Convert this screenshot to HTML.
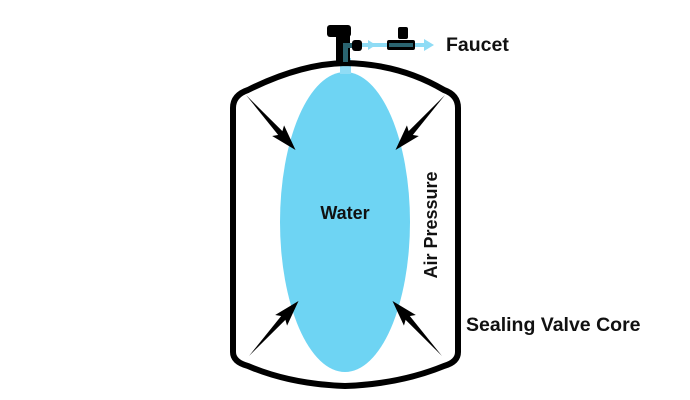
<!DOCTYPE html>
<html><head><style>
body{margin:0;background:#fff;}
svg{display:block}
text{font-family:"Liberation Sans",sans-serif;fill:#111;font-weight:bold;}
</style></head><body>
<svg width="690" height="400" viewBox="0 0 690 400">
<defs>
<g id="arr"><polygon points="0,0 54,-3 54,3" fill="#000"/><polygon points="48,-8 74,0 48,8 53,0" fill="#000"/></g>
</defs>
<ellipse cx="345" cy="222" rx="65" ry="150" fill="#6ed4f3"/>
<rect x="340" y="58" width="11" height="16" fill="#8fdcf5"/>
<path d="M233,108 Q233,95 248,90 Q300,64 345,63 Q400,64 444,90 Q458,95 458,108 L458,352 Q458,362 444,366 Q400,384 345,386 Q290,384 248,366 Q233,362 233,352 Z" fill="none" stroke="#000" stroke-width="6" stroke-linejoin="round"/>
<rect x="327" y="25" width="24" height="12" rx="3" fill="#000"/>
<rect x="336" y="34" width="14" height="28" fill="#000"/>
<rect x="343" y="44" width="5" height="18" fill="#2a6470"/>
<rect x="343" y="43" width="14" height="5" fill="#2a6470"/>
<rect x="352" y="40" width="10" height="11" rx="3" fill="#000"/>
<rect x="362" y="43" width="65" height="4" fill="#8fdcf5"/>
<polygon points="368,40 376,45 368,50" fill="#8fdcf5"/>
<polygon points="424,39 434,45 424,51" fill="#8fdcf5"/>
<rect x="387" y="40" width="28" height="10" rx="2" fill="#000"/>
<rect x="389" y="43" width="24" height="4" fill="#2a6470"/>
<rect x="398" y="27" width="10" height="12" rx="2" fill="#000"/>
<use href="#arr" transform="translate(246,95) rotate(48)"/>
<use href="#arr" transform="translate(445,95) rotate(132)"/>
<use href="#arr" transform="translate(249,356) rotate(-48)"/>
<use href="#arr" transform="translate(442,356) rotate(-132)"/>
<text x="345" y="219" font-size="18" text-anchor="middle">Water</text>
<text x="446" y="51" font-size="19.5">Faucet</text>
<text x="466" y="331" font-size="19.5">Sealing Valve Core</text>
<text transform="translate(437,225) rotate(-90)" font-size="18" text-anchor="middle">Air Pressure</text>
</svg>
</body></html>
